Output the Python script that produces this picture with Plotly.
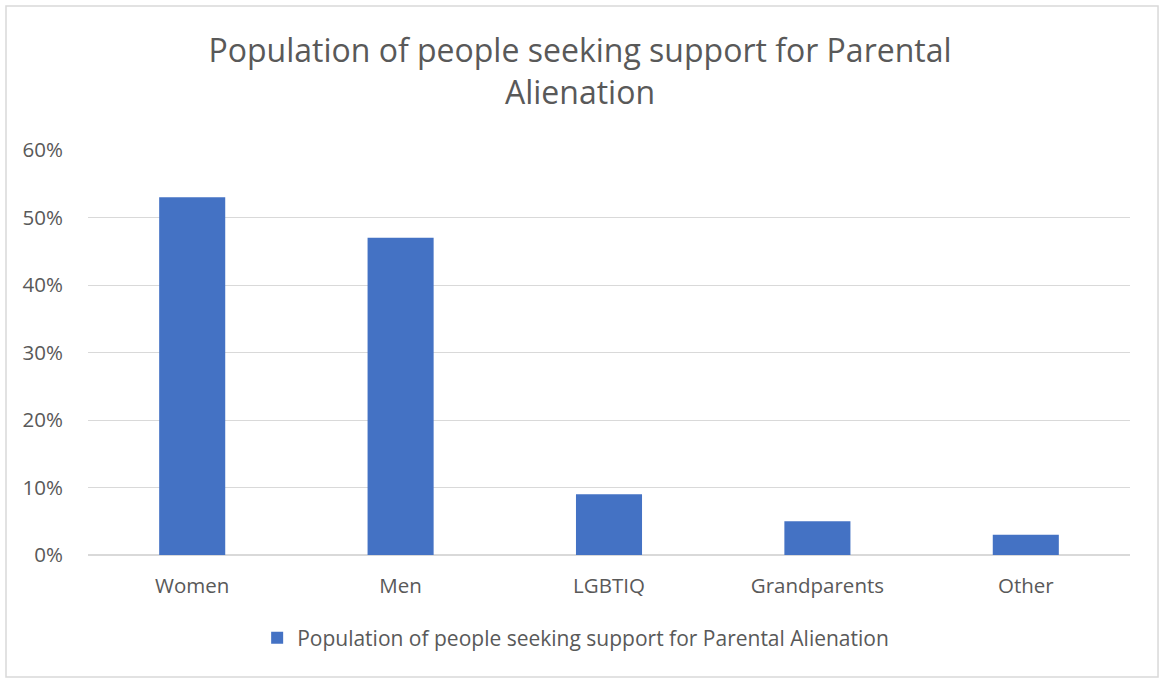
import plotly.graph_objects as go

categories = ["Women", "Men", "LGBTIQ", "Grandparents", "Other"]
values = [0.53, 0.47, 0.09, 0.05, 0.03]
series_name = "Population of people seeking support for Parental Alienation"
title_text = "Population of people seeking support for Parental<br>Alienation"

FONT = "Open Sans"
GREY = "#595959"
GRID = "#d9d9d9"
BLUE = "#4472C4"

fig = go.Figure()
fig.add_trace(go.Bar(
    x=categories, y=values, name=series_name,
    marker=dict(color=BLUE, line=dict(width=0)),
    showlegend=True,
))

fig.update_layout(
    width=1160, height=679,
    margin=dict(l=88, r=30, t=150, b=124, autoexpand=False),
    paper_bgcolor="white", plot_bgcolor="white",
    font=dict(family=FONT, color=GREY, size=20),
    title=dict(text=title_text, x=0.5, xref="container", xanchor="center",
               y=0.908, yref="container", yanchor="middle",
               font=dict(family=FONT, size=32, color=GREY)),
    bargap=0.683,
    legend=dict(orientation="h", x=0.468, xref="paper", xanchor="center",
                y=-0.205, yref="paper", yanchor="middle",
                font=dict(size=21, color=GREY), itemwidth=30),
    xaxis=dict(showgrid=False, showline=True, linecolor=GRID, linewidth=1,
               ticks="", tickangle=0, automargin=False,
               tickfont=dict(size=20.5, color=GREY), ticklabelstandoff=12),
    yaxis=dict(range=[0, 0.6], dtick=0.1, tickformat=".0%", showgrid=True,
               gridcolor=GRID, gridwidth=1, zeroline=True, zerolinecolor=GRID,
               showline=False, ticks="", automargin=False,
               tickfont=dict(size=20.5, color=GREY), ticklabelstandoff=24),
)

fig.add_shape(type="rect", xref="paper", yref="paper",
              x0=-0.0787, x1=1.0269, y0=-0.3012, y1=1.3556,
              line=dict(color=GRID, width=1.5), fillcolor="rgba(0,0,0,0)",
              layer="below")

fig.write_html("out.html", post_script="document.body.style.margin='0';",
               config={"displayModeBar": False})
